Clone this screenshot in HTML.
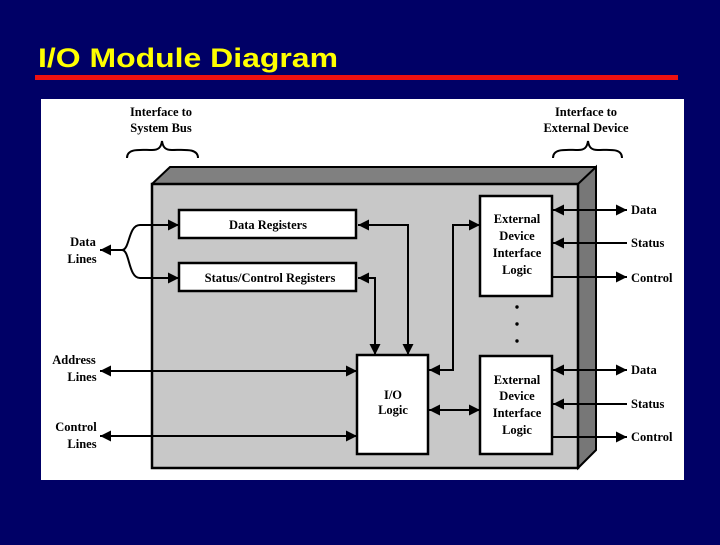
<!DOCTYPE html>
<html><head><style>
body{margin:0;width:720px;height:540px;background:#000066;overflow:hidden;font-family:"Liberation Sans",sans-serif}
</style></head><body>
<svg width="720" height="540" viewBox="0 0 720 540" xmlns="http://www.w3.org/2000/svg">
<defs>
<marker id="a" viewBox="0 0 10 10" refX="10" refY="5" markerWidth="12" markerHeight="11" orient="auto-start-reverse" markerUnits="userSpaceOnUse"><path d="M0,0L10,5L0,10z" fill="#000"/></marker>
</defs>
<rect width="720" height="540" fill="#000066"/>
<text x="38" y="67" font-family="Liberation Sans" font-weight="bold" font-size="27" fill="#ffff00" textLength="300" lengthAdjust="spacingAndGlyphs">I/O Module Diagram</text>
<rect x="35" y="75" width="643" height="5" fill="#ee1111"/>
<rect x="41" y="99" width="643" height="381" fill="#fff"/>
<g font-family="Liberation Serif" font-weight="bold" font-size="12.5" fill="#000">
<polygon points="152,184 170,167 596,167 596,450 578,468 152,468" fill="#808080" stroke="#000" stroke-width="2"/>
<polygon points="578,184 596,167 596,450 578,468" fill="#777" stroke="#000" stroke-width="2"/>
<rect x="152" y="184" width="426" height="284" fill="#c8c8c8" stroke="#000" stroke-width="2.5"/>
<rect x="179" y="210" width="177" height="28" fill="#fff" stroke="#000" stroke-width="2.5"/>
<rect x="179" y="263" width="177" height="28" fill="#fff" stroke="#000" stroke-width="2.5"/>
<rect x="357" y="355" width="71" height="99" fill="#fff" stroke="#000" stroke-width="2.5"/>
<rect x="480" y="196" width="72" height="100" fill="#fff" stroke="#000" stroke-width="2.5"/>
<rect x="480" y="356" width="72" height="98" fill="#fff" stroke="#000" stroke-width="2.5"/>
<text x="268" y="229" text-anchor="middle">Data Registers</text>
<text x="270" y="282" text-anchor="middle">Status/Control Registers</text>
<text x="393" y="399" text-anchor="middle">I/O</text>
<text x="393" y="414" text-anchor="middle">Logic</text>
<g text-anchor="middle"><text x="517" y="223">External</text><text x="517" y="240">Device</text><text x="517" y="257">Interface</text><text x="517" y="274">Logic</text>
<text x="517" y="384">External</text><text x="517" y="400">Device</text><text x="517" y="417">Interface</text><text x="517" y="434">Logic</text></g>
<circle cx="517" cy="307" r="1.7"/><circle cx="517" cy="324" r="1.7"/><circle cx="517" cy="341" r="1.7"/>
<g stroke="#000" stroke-width="2" fill="none">
<path d="M408,355 V225 H358" marker-start="url(#a)" marker-end="url(#a)"/>
<path d="M375,355 V278 H358" marker-start="url(#a)" marker-end="url(#a)"/>
<path d="M429,370 H453 V225 H480" marker-start="url(#a)" marker-end="url(#a)"/>
<path d="M429,410 H480" marker-start="url(#a)" marker-end="url(#a)"/>
<path d="M100,371 H357" marker-start="url(#a)" marker-end="url(#a)"/>
<path d="M100,436 H357" marker-start="url(#a)" marker-end="url(#a)"/>
<path d="M100,250 H122"  marker-start="url(#a)"/>
<path d="M122,250 C130,250 128,225 140,225 H179" marker-end="url(#a)"/>
<path d="M122,250 C130,250 128,278 140,278 H179" marker-end="url(#a)"/>
<path d="M553,210 H627" marker-start="url(#a)" marker-end="url(#a)"/>
<path d="M627,243 H553" marker-end="url(#a)"/>
<path d="M553,277 H627" marker-end="url(#a)"/>
<path d="M553,370 H627" marker-start="url(#a)" marker-end="url(#a)"/>
<path d="M627,404 H553" marker-end="url(#a)"/>
<path d="M553,437 H627" marker-end="url(#a)"/>
<path d="M127,158 C127,148 140,150 152,150 C158,150 161,148 162,141 C163,148 166,150 172,150 C184,150 198,148 198,158"/>
<path d="M553,158 C553,148 566,150 578,150 C584,150 587,148 588,141 C589,148 592,150 598,150 C610,150 622,148 622,158"/>
</g>
<g text-anchor="middle"><text x="161" y="116">Interface to</text><text x="161" y="132">System Bus</text>
<text x="586" y="116">Interface to</text><text x="586" y="132">External Device</text>
<text x="83" y="246">Data</text><text x="82" y="263">Lines</text>
<text x="74" y="364">Address</text><text x="82" y="381">Lines</text>
<text x="76" y="431">Control</text><text x="82" y="448">Lines</text></g>
<text x="631" y="214">Data</text><text x="631" y="247">Status</text><text x="631" y="282">Control</text>
<text x="631" y="374">Data</text><text x="631" y="408">Status</text><text x="631" y="441">Control</text>
</g>
</svg>
</body></html>
